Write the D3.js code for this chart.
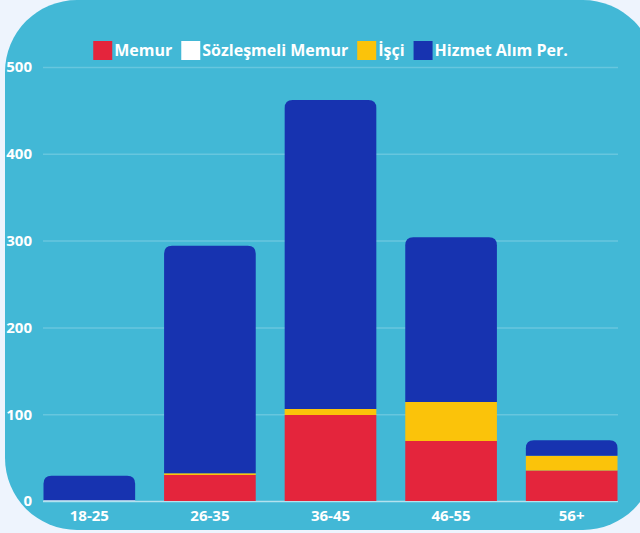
<!DOCTYPE html>
<html>
<head>
<meta charset="utf-8">
<script src="https://cdn.jsdelivr.net/npm/d3@7"></script>
<style>
  html, body { margin: 0; padding: 0; background: #eef4fd; }
  #chart { width: 640px; height: 533px; overflow: hidden; }
  text { font-family: "Open Sans", sans-serif; font-weight: 700; fill: #fff; }
</style>
</head>
<body>
<div id="chart"></div>
<script>
// data
var categories = ["18-25", "26-35", "36-45", "46-55", "56+"];
var seriesNames = ["Memur", "Sözleşmeli Memur", "İşçi", "Hizmet Alım Per."];
var memur = [0, 30, 99, 69, 35];
var sozlesmeli = [1, 0, 0, 0, 0];
var isci = [0, 2, 7, 45, 17];
var hizmet = [28, 262, 356, 190, 18];
var yTicks = [0, 100, 200, 300, 400, 500];
var colors = ["#e4253c", "#ffffff", "#fbc30a", "#1733b0"];

var width = 640, height = 533;

var svg = d3.select("#chart")
    .append("svg")
    .attr("width", width)
    .attr("height", height);

// card background
svg.append("rect")
    .attr("x", 5)
    .attr("y", 0)
    .attr("width", 650)
    .attr("height", 530)
    .attr("rx", 72)
    .attr("fill", "#42b8d6");

var xScale = d3.scaleBand()
    .domain(categories)
    .range([43.5, 617.5])
    .paddingInner(0.24)
    .paddingOuter(0);

var yScale = d3.scaleLinear()
    .domain([0, 500])
    .range([501, 67]);

// gridlines
svg.append("g")
    .selectAll("line")
    .data(yTicks)
    .enter()
    .append("line")
    .attr("x1", 43)
    .attr("x2", 618)
    .attr("y1", d => yScale(d) + 0.5)
    .attr("y2", d => yScale(d) + 0.5)
    .attr("stroke", d => d === 0 ? "rgba(255,255,255,0.6)" : "rgba(255,255,255,0.2)")
    .attr("stroke-width", 1.5);

// y labels
svg.append("g")
    .selectAll("text")
    .data(yTicks)
    .enter()
    .append("text")
    .attr("x", 32)
    .attr("y", d => yScale(d))
    .attr("dy", "0.36em")
    .attr("text-anchor", "end")
    .attr("font-size", "15px")
    .text(d => d);

// stack
var rows = categories.map((c, i) => ({
    cat: c,
    "Memur": memur[i],
    "Sözleşmeli Memur": sozlesmeli[i],
    "İşçi": isci[i],
    "Hizmet Alım Per.": hizmet[i]
}));
var stacked = d3.stack().keys(seriesNames)(rows);

// find top segment per category
var topKey = {};
rows.forEach(r => {
    seriesNames.forEach(k => { if (r[k] > 0) topKey[r.cat] = k; });
});

function barPath(x, y0, y1, w, r) {
    var h = y0 - y1;
    r = Math.min(r, h, w / 2);
    return "M" + x + "," + y0 +
        "V" + (y1 + r) +
        "Q" + x + "," + y1 + " " + (x + r) + "," + y1 +
        "H" + (x + w - r) +
        "Q" + (x + w) + "," + y1 + " " + (x + w) + "," + (y1 + r) +
        "V" + y0 + "Z";
}

stacked.forEach((layer, li) => {
    svg.append("g")
        .selectAll("path")
        .data(layer.filter(d => d[1] > d[0]))
        .enter()
        .append("path")
        .attr("fill", colors[li])
        .attr("d", d => {
            var x = xScale(d.data.cat);
            var r = topKey[d.data.cat] === layer.key ? 8 : 0;
            return barPath(x, yScale(d[0]), yScale(d[1]), xScale.bandwidth(), r);
        });
});

// x labels
svg.append("g")
    .selectAll("text")
    .data(categories)
    .enter()
    .append("text")
    .attr("x", d => xScale(d) + xScale.bandwidth() / 2)
    .attr("y", 516)
    .attr("dy", "0.36em")
    .attr("text-anchor", "middle")
    .attr("font-size", "15px")
    .text(d => d);

// legend
var legend = svg.append("g");
var lx = 0;
seriesNames.forEach((name, i) => {
    var item = legend.append("g").attr("transform", `translate(${lx},0)`);
    item.append("rect")
        .attr("x", 0)
        .attr("y", 0)
        .attr("width", 19)
        .attr("height", 19)
        .attr("fill", colors[i]);
    var t = item.append("text")
        .attr("x", 21)
        .attr("y", 9.5)
        .attr("dy", "0.36em")
        .attr("font-size", "16px")
        .attr("font-weight", 600)
        .text(name);
    lx += 21 + t.node().getComputedTextLength() + 9;
});
var legendW = lx - 9;
legend.attr("transform", `translate(${330.5 - legendW / 2},41)`);
</script>
</body>
</html>
